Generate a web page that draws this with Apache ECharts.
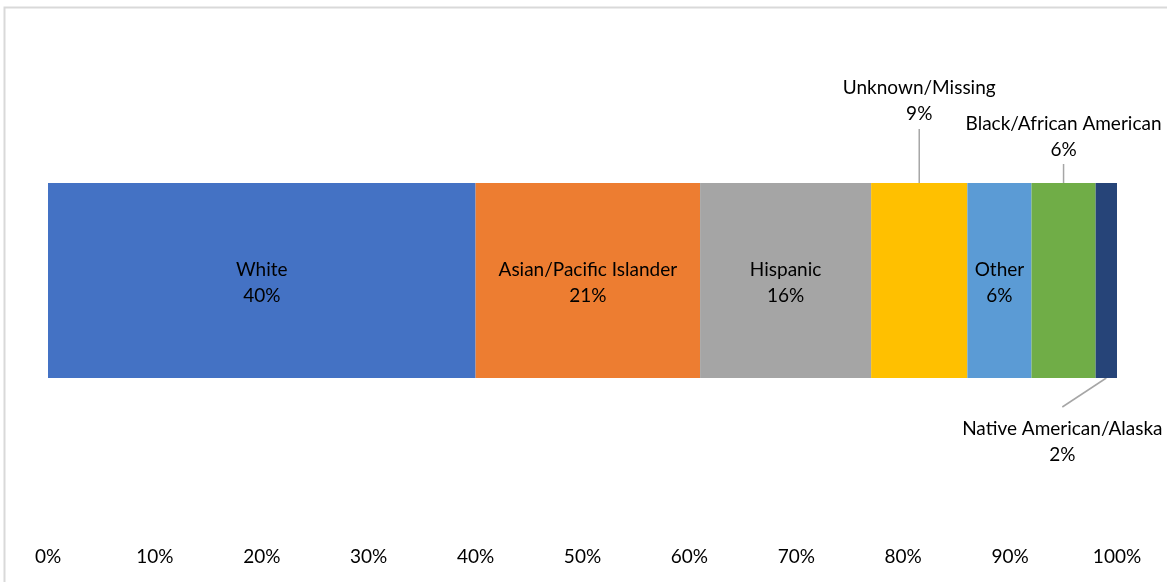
<!DOCTYPE html>
<html>
<head>
<meta charset="utf-8">
<script src="https://cdn.jsdelivr.net/npm/echarts@6/dist/echarts.min.js"></script>
<style>
html,body{margin:0;padding:0;background:#fff;}
#chart{width:1167px;height:582px;}
</style>
</head>
<body>
<div id="chart"></div>
<script>
const categories = ['All'];
const seriesNames = ['White', 'Asian/Pacific Islander', 'Hispanic', 'Unknown/Missing', 'Other', 'Black/African American', 'Native American/Alaska'];
const values = [40, 21, 16, 9, 6, 6, 2];
const colors = ['#4472C4', '#ED7D31', '#A5A5A5', '#FFC000', '#5B9BD5', '#70AD47', '#264478'];
const tickLabels = ['0%', '10%', '20%', '30%', '40%', '50%', '60%', '70%', '80%', '90%', '100%'];
const outsideLabels = {
  'Unknown/Missing': { position: 'top', offset: [0, -51] },
  'Black/African American': { position: 'top', offset: [0, -15] },
  'Native American/Alaska': { position: 'bottom', offset: [-44, 33] }
};

const FONT = 'Lato';
const FS = 19;
const BAR_W = 195;
const chart = echarts.init(document.getElementById('chart'), null, { renderer: 'canvas' });

const series = seriesNames.map((name, i) => {
  const out = outsideLabels[name];
  const label = {
    show: true,
    formatter: '{a}\n{c}%',
    color: '#000',
    fontFamily: FONT,
    fontSize: FS,
    lineHeight: 26,
    position: out ? out.position : 'inside',
    distance: 5,
    offset: out ? out.offset : [0, 2]
  };
  return {
    name: name,
    type: 'bar',
    stack: 'total',
    barWidth: BAR_W,
    data: [values[i]],
    itemStyle: { color: colors[i] },
    label: label,
    emphasis: { disabled: true },
    animation: false
  };
});

chart.setOption({
  animation: false,
  grid: { left: 48, right: 50, top: 21, bottom: 42, containLabel: false },
  xAxis: {
    type: 'value',
    min: 0,
    max: 100,
    interval: 10,
    axisLine: { show: false },
    axisTick: { show: false },
    splitLine: { show: false },
    axisLabel: {
      color: '#000',
      fontFamily: FONT,
      fontSize: FS,
      margin: 7,
      formatter: v => tickLabels[Math.round(v / 10)]
    }
  },
  yAxis: {
    type: 'category',
    data: categories,
    show: false
  },
  series: series
});

// leader lines computed from the chart's own scales
function cum(i) { let s = 0; for (let k = 0; k < i; k++) s += values[k]; return s; }
function mid(name) { const i = seriesNames.indexOf(name); return cum(i) + values[i] / 2; }
const gfx = [{
  type: 'rect', shape: { x: 4.5, y: 7.5, width: 3000, height: 3000 },
  style: { fill: 'none', stroke: '#D9D9D9', lineWidth: 2 }, silent: true
}];
const lc = { stroke: '#A6A6A6', lineWidth: 1.5 };
let p = chart.convertToPixel({ gridIndex: 0 }, [mid('Unknown/Missing'), categories[0]]);
gfx.push({ type: 'line', shape: { x1: p[0], y1: p[1] - BAR_W / 2, x2: p[0], y2: p[1] - BAR_W / 2 - 54 }, style: lc, silent: true });
p = chart.convertToPixel({ gridIndex: 0 }, [mid('Black/African American'), categories[0]]);
gfx.push({ type: 'line', shape: { x1: p[0], y1: p[1] - BAR_W / 2, x2: p[0], y2: p[1] - BAR_W / 2 - 19 }, style: lc, silent: true });
p = chart.convertToPixel({ gridIndex: 0 }, [mid('Native American/Alaska'), categories[0]]);
gfx.push({ type: 'line', shape: { x1: p[0], y1: p[1] + BAR_W / 2, x2: p[0] - 44, y2: p[1] + BAR_W / 2 + 29 }, style: lc, silent: true });
chart.setOption({ graphic: gfx });
</script>
</body>
</html>
